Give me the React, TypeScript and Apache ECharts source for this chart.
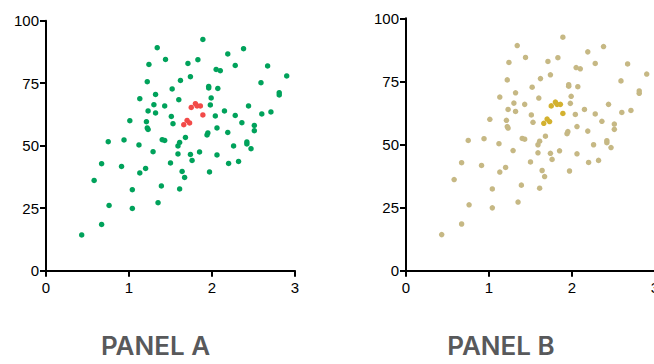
import React, { useEffect, useRef } from "react";
import * as echarts from "echarts";

const xTicks = [0, 1, 2, 3];
const yTicks = [0, 25, 50, 75, 100];
const panelTitles = ["PANEL A", "PANEL B"];

const mainX = [
  0.43, 0.67, 0.58, 0.67, 0.75, 0.76, 0.91, 0.94, 1.04, 1.04, 1.01, 1.12, 1.13, 1.2, 1.13, 1.21,
  1.22, 1.23, 1.23, 1.22, 1.24, 1.34, 1.32, 1.3, 1.32, 1.29, 1.35, 1.39, 1.4, 1.43, 1.43, 1.44,
  1.51, 1.52, 1.53, 1.5, 1.59, 1.59, 1.61, 1.6, 1.62, 1.61, 1.64, 1.67, 1.68, 1.71, 1.74, 1.74,
  1.76, 1.83, 1.85, 1.89, 1.96, 1.96, 1.99, 1.98, 1.94, 1.95, 1.97, 2.04, 2.06, 2.06, 2.05, 2.1,
  2.07, 2.15, 2.19, 2.19, 2.2, 2.26, 2.28, 2.28, 2.32, 2.36, 2.38, 2.42, 2.42, 2.44, 2.47, 2.51,
  2.51, 2.59, 2.6, 2.67, 2.71, 2.81, 2.81, 2.9,
];
const mainY = [
  14.3, 18.5, 36.1, 42.8, 51.6, 26.1, 41.7, 52.3, 32.4, 24.9, 60.0, 50.3, 39.1, 40.9, 68.8, 59.6,
  57.1, 56.5, 63.9, 75.6, 82.5, 89.2, 70.5, 66.4, 63.1, 47.6, 27.2, 33.9, 52.4, 52.1, 65.9, 84.5,
  61.7, 72.7, 58.8, 43.1, 46.7, 49.9, 51.3, 68.4, 76.1, 32.7, 39.7, 37.3, 53.3, 82.9, 77.6, 46.5,
  44.1, 84.4, 47.5, 92.5, 73.1, 73.7, 69.1, 66.3, 54.3, 55.1, 39.5, 61.9, 57.1, 46.3, 80.5, 80.0,
  72.9, 63.9, 86.7, 55.3, 42.9, 49.9, 62.1, 82.1, 43.7, 59.2, 88.8, 50.7, 51.5, 65.9, 48.8, 56.0,
  58.1, 75.2, 62.7, 81.9, 63.5, 70.3, 71.2, 77.9,
];
const clusterX = [1.66, 1.7, 1.73, 1.75, 1.8, 1.82, 1.86, 1.89];
const clusterY = [58.4, 60.1, 59.1, 65.3, 66.8, 65.9, 65.9, 62.3];

const pair = (xs: number[], ys: number[]) => xs.map((x, i) => [x, ys[i]]);

export default function App() {
  const ref = useRef<HTMLDivElement>(null);
  useEffect(() => {
    if (!ref.current) return;
    const chart = echarts.init(ref.current, null, { renderer: "svg" });
    const grids = [
      { left: 46, top: 20.7, width: 249, height: 250, outerBoundsMode: "none", containLabel: false },
      { left: 406, top: 18.3, width: 249, height: 252.4, outerBoundsMode: "none", containLabel: false },
    ];
    const axisCommon = {
      axisLine: { show: true, lineStyle: { color: "#000", width: 2 } },
      axisTick: { show: true, length: 6, lineStyle: { color: "#000", width: 2 } },
      splitLine: { show: false },
      axisLabel: {
        color: "#000",
        fontSize: 15,
        fontFamily: "Liberation Sans",
        hideOverlap: false,
      },
    };
    const xAxes = grids.map((_, i) => ({
      type: "value",
      gridIndex: i,
      min: 0,
      max: 3,
      interval: 1,
      ...axisCommon,
      axisLabel: { ...axisCommon.axisLabel, margin: 9, customValues: xTicks },
    }));
    const yAxes = grids.map((_, i) => ({
      type: "value",
      gridIndex: i,
      min: 0,
      max: 100,
      interval: 25,
      ...axisCommon,
      axisLabel: { ...axisCommon.axisLabel, margin: 7, customValues: yTicks },
    }));
    const colors = [
      ["#00A25B", "#F24A48"],
      ["#C6B884", "#D3B12F"],
    ];
    const series: any[] = [];
    grids.forEach((_, i) => {
      series.push({
        type: "scatter",
        xAxisIndex: i,
        yAxisIndex: i,
        data: pair(mainX, mainY),
        symbolSize: 5.5,
        itemStyle: { color: colors[i][0], opacity: 1 },
        z: 2,
      });
      series.push({
        type: "scatter",
        xAxisIndex: i,
        yAxisIndex: i,
        data: pair(clusterX, clusterY),
        symbolSize: 5.5,
        itemStyle: { color: colors[i][1], opacity: 1 },
        z: 3,
      });
    });
    chart.setOption({
      animation: false,
      grid: grids,
      xAxis: xAxes,
      yAxis: yAxes,
      series,
      graphic: panelTitles.map((t, i) => ({
        type: "text",
        x: i === 0 ? 155.5 : 501,
        y: 332,
        style: {
          text: t,
          fill: "#58595B",
          font: "600 26px Inter",
          textAlign: "center",
          textVerticalAlign: "top",
        },
      })),
    });
    return () => chart.dispose();
  }, []);
  return (
    <div
      ref={ref}
      style={{ position: "fixed", left: 0, top: 0, width: 654, height: 364, background: "#fff" }}
    />
  );
}
